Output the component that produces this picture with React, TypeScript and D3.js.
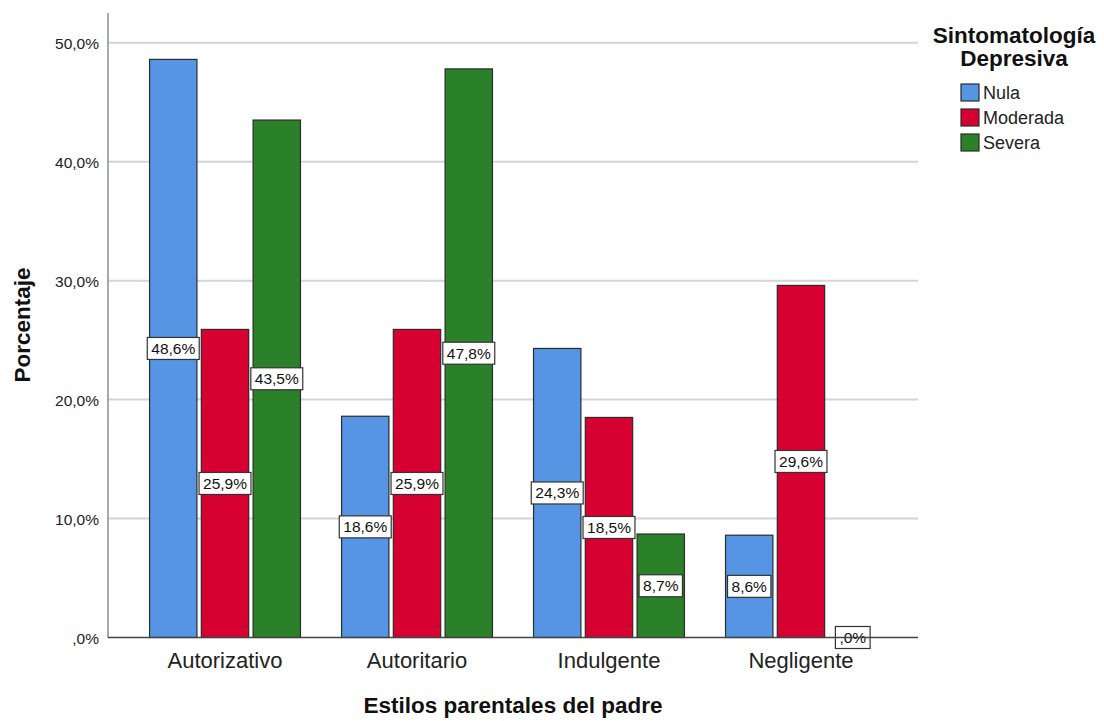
import { useEffect, useRef } from "react";
import * as d3 from "d3";

const categories = ["Autorizativo", "Autoritario", "Indulgente", "Negligente"];
const seriesNames = ["Nula", "Moderada", "Severa"];
const nula = [48.6, 18.6, 24.3, 8.6];
const moderada = [25.9, 25.9, 18.5, 29.6];
const severa = [43.5, 47.8, 8.7, 0.0];
const yTicks = [0, 10, 20, 30, 40, 50];
const colors = ["#5595e4", "#d60131", "#2a8129"];

const W = 1104;
const H = 721;
const FONT = "'Liberation Sans', Arial, sans-serif";

const fmt = (v: number) => {
  const s = v.toFixed(1).replace(".", ",");
  return (s.startsWith("0") ? s.slice(1) : s) + "%";
};

export default function App() {
  const svgRef = useRef<SVGSVGElement>(null);

  useEffect(() => {
    if (!svgRef.current) return;
    const svg = d3.select(svgRef.current);
    svg.selectAll("*").remove();

    const left = 108, right = 918, top = 13, bottom = 637.5;
    const values = [nula, moderada, severa];

    const x = d3.scaleBand<string>().domain(categories).range([left, right])
      .paddingInner(0.214).paddingOuter(0.2165);
    const xs = d3.scaleBand<string>().domain(seriesNames).range([0, x.bandwidth()])
      .paddingInner(0.085);
    const y = d3.scaleLinear().domain([0, 52.5]).range([bottom, top]);

    // grid
    svg.append("g").selectAll("line").data(yTicks.filter((t) => t > 0)).join("line")
      .attr("x1", left).attr("x2", right)
      .attr("y1", (d) => y(d)).attr("y2", (d) => y(d))
      .attr("stroke", "#d4d4d4").attr("stroke-width", 2);

    // y tick labels
    svg.append("g").selectAll("text").data(yTicks).join("text")
      .attr("x", 99).attr("y", (d) => y(d) + 6)
      .attr("text-anchor", "end")
      .attr("font-family", FONT).attr("font-size", 15.5).attr("fill", "#222")
      .text((d) => fmt(d));

    // bars
    const groups = svg.append("g").selectAll("g").data(categories).join("g")
      .attr("transform", (c) => `translate(${x(c)},0)`);

    groups.selectAll("rect").data((c, i) => seriesNames.map((s, k) => ({ s, k, v: values[k][categories.indexOf(c)] })))
      .join("rect")
      .attr("x", (d) => xs(d.s)!)
      .attr("width", xs.bandwidth())
      .attr("y", (d) => y(d.v))
      .attr("height", (d) => bottom - y(d.v))
      .attr("fill", (d) => colors[d.k])
      .attr("stroke", "#2b2b2b").attr("stroke-width", 1.2);

    // axes
    svg.append("line").attr("x1", left).attr("x2", left).attr("y1", top).attr("y2", bottom)
      .attr("stroke", "#8c8c8c").attr("stroke-width", 1.5);
    svg.append("line").attr("x1", left).attr("x2", right).attr("y1", bottom).attr("y2", bottom)
      .attr("stroke", "#444").attr("stroke-width", 1.5);

    // value labels
    const labels = groups.selectAll("g.lab")
      .data((c) => seriesNames.map((s, k) => ({ s, k, v: values[k][categories.indexOf(c)] })))
      .join("g").attr("class", "lab")
      .attr("transform", (d) => `translate(${xs(d.s)! + xs.bandwidth() / 2},${(y(d.v) + bottom) / 2})`);
    labels.each(function (d) {
      const g = d3.select(this);
      const t = g.append("text")
        .attr("text-anchor", "middle").attr("y", 5.5)
        .attr("font-family", FONT).attr("font-size", 15.5).attr("fill", "#111")
        .text(fmt(d.v));
      const w = (t.node() as SVGTextElement).getComputedTextLength() + 8;
      g.insert("rect", "text")
        .attr("x", -w / 2).attr("y", -11).attr("width", w).attr("height", 22)
        .attr("fill", "#fff").attr("stroke", "#333").attr("stroke-width", 1.2);
    });

    // category labels
    svg.append("g").selectAll("text").data(categories).join("text")
      .attr("x", (c) => x(c)! + x.bandwidth() / 2).attr("y", 668)
      .attr("text-anchor", "middle")
      .attr("font-family", FONT).attr("font-size", 22).attr("fill", "#222")
      .text((c) => c);

    // axis titles
    svg.append("text").attr("x", 513).attr("y", 713).attr("text-anchor", "middle")
      .attr("font-family", FONT).attr("font-size", 22.5).attr("font-weight", "bold").attr("fill", "#111")
      .text("Estilos parentales del padre");
    svg.append("text").attr("transform", "translate(30,325) rotate(-90)").attr("text-anchor", "middle")
      .attr("font-family", FONT).attr("font-size", 22.5).attr("font-weight", "bold").attr("fill", "#111")
      .text("Porcentaje");

    // legend
    const lg = svg.append("g");
    lg.append("text").attr("x", 1014).attr("y", 43).attr("text-anchor", "middle")
      .attr("font-family", FONT).attr("font-size", 22.5).attr("font-weight", "bold").attr("fill", "#111")
      .text("Sintomatología");
    lg.append("text").attr("x", 1014).attr("y", 66).attr("text-anchor", "middle")
      .attr("font-family", FONT).attr("font-size", 22.5).attr("font-weight", "bold").attr("fill", "#111")
      .text("Depresiva");
    const items = lg.selectAll("g.item").data(seriesNames).join("g").attr("class", "item")
      .attr("transform", (d, i) => `translate(961,${84 + i * 25})`);
    items.append("rect").attr("width", 18).attr("height", 17)
      .attr("fill", (d, i) => colors[i]).attr("stroke", "#2b2b2b").attr("stroke-width", 1.2);
    items.append("text").attr("x", 22).attr("y", 15)
      .attr("font-family", FONT).attr("font-size", 18).attr("fill", "#222")
      .text((d) => d);
  }, []);

  return (
    <svg ref={svgRef} width={W} height={H}
      style={{ position: "absolute", left: 0, top: 0, background: "#fff" }} />
  );
}
